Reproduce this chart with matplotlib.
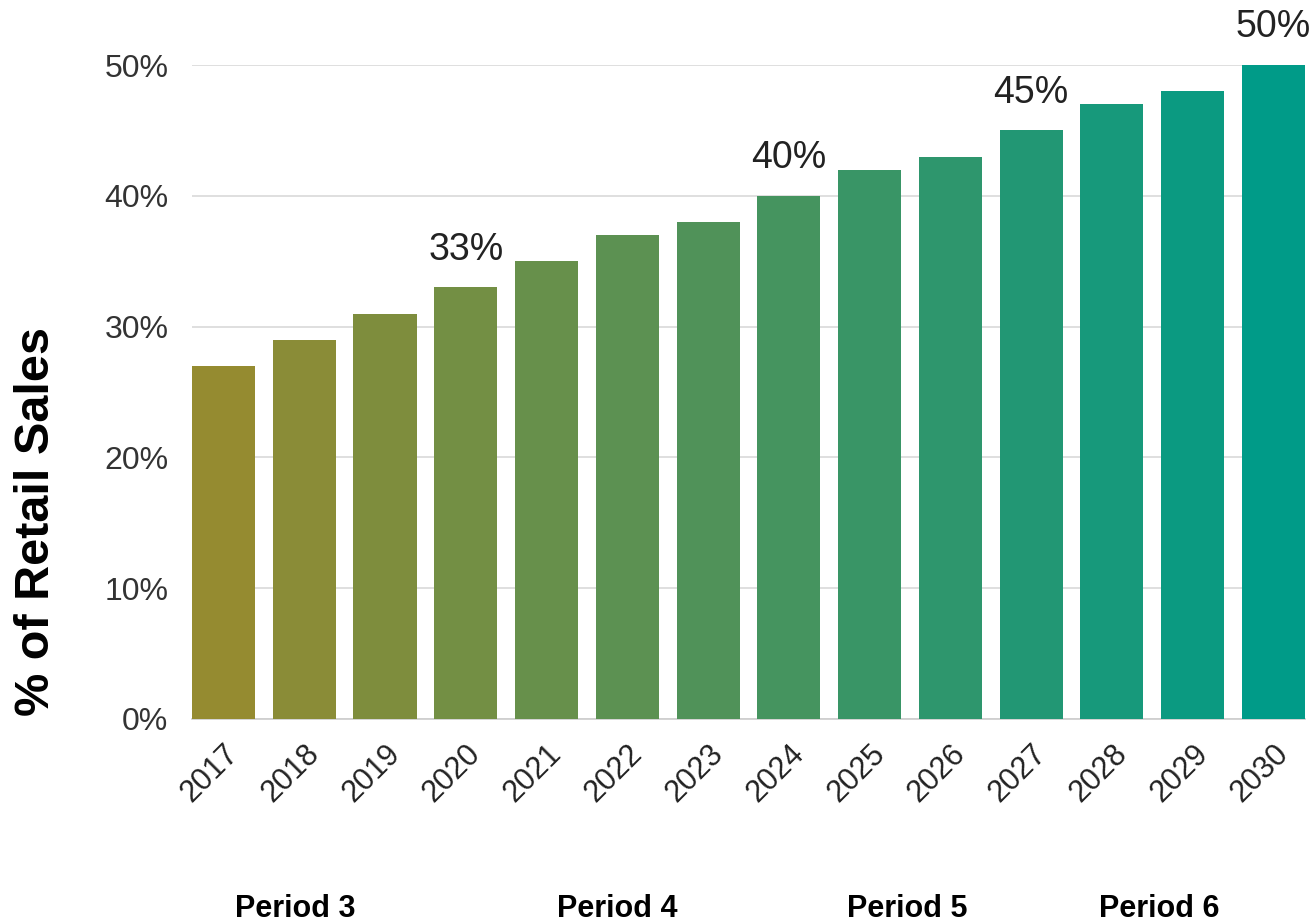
import matplotlib
matplotlib.use("Agg")
import matplotlib.pyplot as plt
from matplotlib.colors import LinearSegmentedColormap
import numpy as np

years = ["2017", "2018", "2019", "2020", "2021", "2022", "2023",
         "2024", "2025", "2026", "2027", "2028", "2029", "2030"]
share = [27, 29, 31, 33, 35, 37, 38, 40, 42, 43, 45, 47, 48, 50]
labelled = ["2020", "2024", "2027", "2030"]
periods = ["Period 3", "Period 4", "Period 5", "Period 6"]
period_pos = [0.89, 4.88, 8.46, 11.59]

plt.rcParams["font.family"] = ["Liberation Sans", "DejaVu Sans"]

fig = plt.figure(figsize=(13.12, 9.22), dpi=100)
ax = fig.add_axes([0.1463, 0.2202, 0.8484, 0.7093])

# olive -> teal gradient across the bars
cmap = LinearSegmentedColormap.from_list("olive_teal", ["#958b30", "#009b88"])
x = np.arange(len(years))
colors = [cmap(i / (len(years) - 1)) for i in x]
ax.bar(x, share, width=0.78, color=colors, zorder=3)

for i, (y, v) in enumerate(zip(years, share)):
  if y in labelled:
    ax.text(i, v + 1.5, f"{v}%", ha="center", va="bottom", fontsize=27,
            color="#222222", clip_on=False)

ax.set_xlim(-0.39, len(years) - 0.61)
ax.set_ylim(0, 50)
ax.set_yticks(np.arange(0, 51, 10))
ax.set_yticklabels([f"{t}%" for t in range(0, 51, 10)], fontsize=23, color="#333333")
ax.set_xticks(x)
ax.set_xticklabels(years, rotation=45, ha="right", rotation_mode="anchor",
                   fontsize=22, color="#222222")
ax.tick_params(length=0, pad=17)
ax.tick_params(axis="x", pad=14)
ax.grid(axis="y", color="#d9d9d9", linewidth=1.2, zorder=0)
for s in ["top", "right", "left"]:
  ax.spines[s].set_visible(False)
ax.spines["bottom"].set_color("#cccccc")
ax.spines["bottom"].set_linewidth(1.2)

fig.text(0.028, 0.434, "% of Retail Sales", rotation=90, ha="center", va="center",
         fontsize=35, fontweight="bold", color="black")

for p, xp in zip(periods, period_pos):
  ax.text(xp, -0.29, p, transform=ax.get_xaxis_transform(), ha="center", va="center",
          fontsize=22, fontweight="bold", color="black")

fig.savefig("out.png", dpi=100)
